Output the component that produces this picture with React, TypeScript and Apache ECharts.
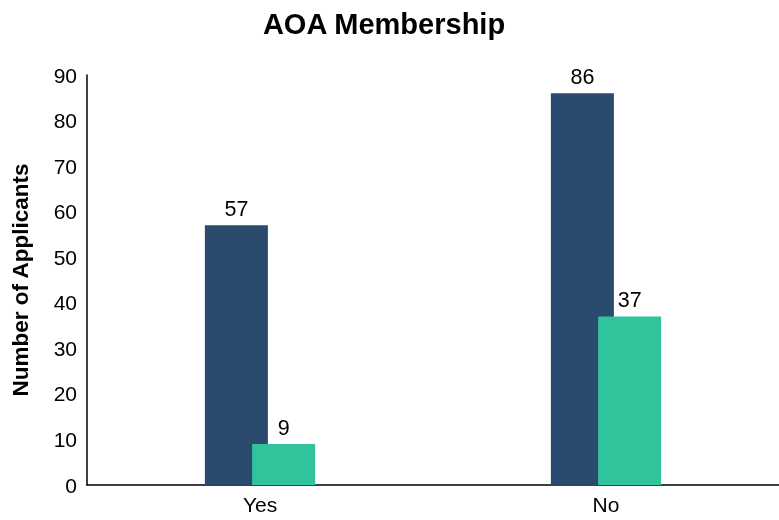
import React, { useEffect, useRef } from "react";
import * as echarts from "echarts";

const categories = ["Yes", "No"];
const seriesA = [57, 86];
const seriesB = [9, 37];
const yTicks = { min: 0, max: 90, interval: 10 };

export default function App() {
  const ref = useRef<HTMLDivElement>(null);
  useEffect(() => {
    document.body.style.margin = "0";
    const chart = echarts.init(ref.current!, null, { renderer: "svg" });
    const font = "'Liberation Sans', Arial, sans-serif";
    chart.setOption({
      animation: false,
      textStyle: { fontFamily: font },
      title: {
        text: "AOA Membership",
        left: 379,
        textAlign: "center",
        top: 4,
        textStyle: { fontFamily: font, fontSize: 29, fontWeight: "bold", color: "#000" },
      },
      grid: { left: 87, right: -3, top: 75, bottom: 35, containLabel: false },
      xAxis: {
        type: "category",
        data: categories,
        axisLine: { lineStyle: { color: "#000", width: 1.5 } },
        axisTick: { show: false },
        axisLabel: { fontFamily: font, fontSize: 21, color: "#000", margin: 9 },
      },
      yAxis: {
        type: "value",
        min: yTicks.min,
        max: yTicks.max,
        interval: yTicks.interval,
        name: "Number of Applicants",
        nameLocation: "middle",
        nameGap: 55,
        nameTextStyle: { fontFamily: font, fontSize: 22.5, fontWeight: "bold", color: "#000" },
        axisLine: { show: true, lineStyle: { color: "#000", width: 1.5 } },
        axisTick: { show: false },
        splitLine: { show: false },
        axisLabel: { fontFamily: font, fontSize: 21, color: "#000", margin: 10 },
      },
      series: [
        {
          type: "bar",
          data: seriesA,
          barWidth: 63,
          barGap: "-25%",
          itemStyle: { color: "#2A4A6E" },
          label: { show: true, position: "top", distance: 5, fontFamily: font, fontSize: 21.5, color: "#000" },
        },
        {
          type: "bar",
          data: seriesB,
          barWidth: 63,
          barGap: "-25%",
          itemStyle: { color: "#31C39C" },
          label: { show: true, position: "top", distance: 5, fontFamily: font, fontSize: 21.5, color: "#000" },
        },
      ],
    });
    return () => chart.dispose();
  }, []);
  return <div ref={ref} style={{ position: "fixed", left: 0, top: 0, width: 779, height: 520 }} />;
}
